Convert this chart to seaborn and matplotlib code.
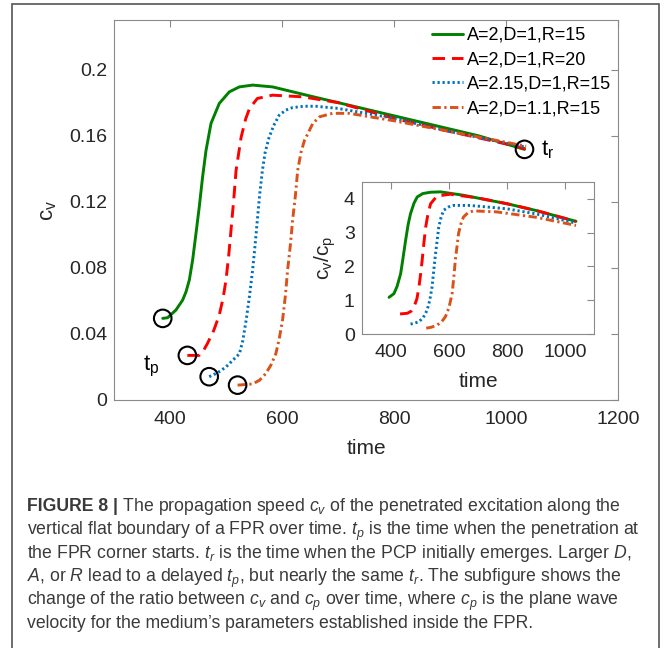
import numpy as np
import pandas as pd
import matplotlib
matplotlib.use("Agg")
import matplotlib.pyplot as plt
import seaborn as sns
from matplotlib.patches import Rectangle

# ---------------- data ----------------
labels = ["A=2,D=1,R=15", "A=2,D=1,R=20", "A=2.15,D=1,R=15", "A=2,D=1.1,R=15"]
colors = ["#008000", "#FF0000", "#0072BD", "#D95319"]

# main panel: c_v over time
green_t = [387, 395.7, 410.7, 422.6, 428.6, 434.5, 440.4, 446.4, 452.3, 458.2, 464.3, 473.2, 488, 505.9,
           523.8, 547.5, 583.2, 650, 750, 850, 950, 1033]
green_cv = [0.0494, 0.0498, 0.0545, 0.0605, 0.0655, 0.0726, 0.0847, 0.1008, 0.117, 0.135, 0.151, 0.1674,
            0.1795, 0.1865, 0.1895, 0.1906, 0.1895, 0.184, 0.176, 0.168, 0.160, 0.1517]
red_t = [431, 452, 460, 467, 478, 488, 495, 500, 505, 509, 514, 518, 527, 535, 542, 556, 583, 637, 700,
         800, 900, 1000, 1035]
red_cv = [0.027, 0.027, 0.030, 0.0343, 0.042, 0.0514, 0.062, 0.0726, 0.088, 0.103, 0.122, 0.139, 0.159,
          0.170, 0.1765, 0.1825, 0.1845, 0.1835, 0.180, 0.1705, 0.1625, 0.155, 0.152]
blue_t = [470, 485, 500, 512, 524, 530, 536, 542, 547.5, 552, 556, 560, 565, 570, 577, 585, 595, 607, 619,
          640, 660, 700, 800, 900, 1000, 1036]
blue_cv = [0.0141, 0.0165, 0.020, 0.024, 0.028, 0.036, 0.0484, 0.063, 0.0786, 0.094, 0.109, 0.124, 0.139,
           0.150, 0.159, 0.166, 0.1724, 0.1755, 0.177, 0.1778, 0.1778, 0.1765, 0.1705, 0.1625, 0.1555, 0.153]
orange_t = [520.7, 547.5, 560, 571, 580, 589, 595, 601, 606, 610, 615, 619, 624, 628, 634, 640, 655, 667,
            690, 720, 800, 900, 1000, 1036]
orange_cv = [0.009, 0.0097, 0.012, 0.016, 0.021, 0.028, 0.037, 0.0484, 0.063, 0.0786, 0.094, 0.109, 0.124,
             0.139, 0.150, 0.157, 0.1674, 0.1714, 0.1735, 0.1735, 0.169, 0.1625, 0.156, 0.1536]

# inset: c_v / c_p over time
green_ti = [394, 411, 422, 434, 443, 451, 460, 468, 480, 491, 510, 537, 571, 650, 800, 900, 1037]
green_ratio = [1.09, 1.2, 1.42, 1.79, 2.3, 2.77, 3.25, 3.56, 3.87, 4.05, 4.15, 4.19, 4.2, 4.1, 3.85, 3.65, 3.33]
red_ti = [432, 457, 470, 480, 490, 497, 503, 508, 514, 520, 528, 537, 559, 605, 700, 800, 900, 1037]
red_ratio = [0.6, 0.62, 0.68, 0.81, 1.05, 1.4, 1.8, 2.19, 2.7, 3.16, 3.55, 3.85, 4.08, 4.13, 4.02, 3.85,
             3.65, 3.33]
blue_ti = [468, 482, 497, 512, 525, 534, 542, 548, 554, 560, 565, 573, 582, 600, 616, 673, 800, 900, 1037]
blue_ratio = [0.30, 0.33, 0.37, 0.5, 0.71, 1.0, 1.4, 1.9, 2.38, 2.8, 3.16, 3.45, 3.66, 3.76, 3.8, 3.8,
              3.7, 3.55, 3.28]
orange_ti = [522, 540, 559, 575, 588, 600, 611, 617, 622, 628, 633, 641, 650, 665, 684, 764, 900, 1037]
orange_ratio = [0.18, 0.21, 0.27, 0.37, 0.52, 0.78, 1.2, 1.7, 2.19, 2.6, 2.97, 3.25, 3.46, 3.58, 3.64,
                3.61, 3.45, 3.21]

main_series = [(green_t, green_cv), (red_t, red_cv), (blue_t, blue_cv), (orange_t, orange_cv)]
inset_series = [(green_ti, green_ratio), (red_ti, red_ratio), (blue_ti, blue_ratio), (orange_ti, orange_ratio)]

main_xticks = [400, 600, 800, 1000, 1200]
main_yticks = [0, 0.04, 0.08, 0.12, 0.16, 0.2]
main_yticklabels = ["0", "0.04", "0.08", "0.12", "0.16", "0.2"]
inset_xticks = [400, 600, 800, 1000]
inset_yticks = [0, 1, 2, 3, 4]

caption_bold = "FIGURE 8 |"
caption_lines = [
    " The propagation speed $c_v$ of the penetrated excitation along the",
    "vertical flat boundary of a FPR over time. $t_p$ is the time when the penetration at",
    "the FPR corner starts. $t_r$ is the time when the PCP initially emerges. Larger $D$,",
    "$A$, or $R$ lead to a delayed $t_p$, but nearly the same $t_r$. The subfigure shows the",
    "change of the ratio between $c_v$ and $c_p$ over time, where $c_p$ is the plane wave",
    "velocity for the medium\u2019s parameters established inside the FPR.",
]

# ---------------- style ----------------
sns.set_style("white")
plt.rcParams["font.family"] = ["Liberation Sans", "DejaVu Sans"]
plt.rcParams["mathtext.fontset"] = "custom"
plt.rcParams["mathtext.rm"] = "Liberation Sans"
plt.rcParams["mathtext.it"] = "Liberation Sans:italic"
plt.rcParams["mathtext.bf"] = "Liberation Sans:bold"
plt.rcParams["lines.scale_dashes"] = False

line_styles = ["-", (0, (9, 5)), (0, (1.6, 2.0)), (0, (6, 2.5, 1.6, 2.5))]
spine_col = "#8a8a8a"
text_col = "#262626"

W, H = 667, 648
fig = plt.figure(figsize=(W / 100, H / 100), dpi=100)


def fx(px):
    return px / W


def fy(py):
    return 1 - py / H


def style_axes(ax, pad_x, pad_y):
    for sp in ax.spines.values():
        sp.set_color(spine_col)
        sp.set_linewidth(0.8)
        sp.set_visible(True)
    ax.tick_params(axis="both", which="both", direction="in", top=True, right=True,
                   length=5, width=0.8, color=spine_col, labelcolor=text_col, labelsize=14)
    ax.tick_params(axis="x", pad=pad_x)
    ax.tick_params(axis="y", pad=pad_y)
    ax.set_facecolor("white")


# ---------------- main axes ----------------
ax = fig.add_axes([fx(114), fy(400), fx(618) - fx(114), fy(20) - fy(400)])
for (t, v), lab, c, ls in zip(main_series, labels, colors, line_styles):
    df = pd.DataFrame({"time": t, "cv": v})
    sns.lineplot(data=df, x="time", y="cv", ax=ax, color=c, lw=2.1, sort=False,
                 estimator=None, label=lab)
    ax.lines[-1].set_linestyle(ls)

start_x = [s[0][0] for s in main_series] + [green_t[-1]]
start_y = [s[1][0] for s in main_series] + [green_cv[-1]]
sns.scatterplot(x=start_x, y=start_y, ax=ax, s=160, marker="o", facecolors="none",
                edgecolor="black", linewidth=1.5, zorder=5, legend=False)

ax.set_xlim(300, 1200)
ax.set_ylim(0, 0.23)
ax.set_xticks(main_xticks)
ax.set_yticks(main_yticks)
ax.set_yticklabels(main_yticklabels)
style_axes(ax, pad_x=8, pad_y=5)
ax.set_xlabel("time", fontsize=15, color=text_col)
ax.set_ylabel(r"$\mathregular{c_v}$", fontsize=16, color=text_col)
ax.xaxis.set_label_coords(0.5, -0.103)
ax.yaxis.set_label_coords(-0.11, 0.5)

ax.text(367, 0.0205, r"$\mathregular{t_p}$", fontsize=16, color="black", ha="center", va="center")
ax.text(1074, 0.1515, r"$\mathregular{t_r}$", fontsize=16, color="black", ha="center", va="center")

leg = ax.legend(loc="upper left", bbox_to_anchor=(fx(432), fy(27)), bbox_transform=fig.transFigure,
                frameon=False, fontsize=13, handlelength=1.7, handletextpad=0.25,
                labelspacing=0.41, borderpad=0, borderaxespad=0)
for t in leg.get_texts():
    t.set_color("black")

# ---------------- inset axes ----------------
axi = fig.add_axes([fx(361.7), fy(334.3), fx(594.3) - fx(361.7), fy(181.7) - fy(334.3)])
for (t, v), c, ls in zip(inset_series, colors, line_styles):
    df = pd.DataFrame({"time": t, "ratio": v})
    sns.lineplot(data=df, x="time", y="ratio", ax=axi, color=c, lw=2.1, sort=False,
                 estimator=None, legend=False)
    axi.lines[-1].set_linestyle(ls)
axi.set_xlim(300, 1100)
axi.set_ylim(0, 4.5)
axi.set_xticks(inset_xticks)
axi.set_yticks(inset_yticks)
style_axes(axi, pad_x=7, pad_y=5)
axi.set_xlabel("time", fontsize=15, color=text_col)
axi.set_ylabel(r"$\mathregular{c_v/c_p}$", fontsize=15, color=text_col)
axi.xaxis.set_label_coords(0.5, -0.25)
axi.yaxis.set_label_coords(-0.1, 0.5)

# ---------------- outer frame and caption ----------------
fig.patches.append(Rectangle((fx(12), -0.02), fx(659) - fx(12), fy(4) + 0.02, transform=fig.transFigure,
                             fill=False, edgecolor="#555555", linewidth=1.2))

cap_col = "#3a3a3a"
cap_fs = 12.7
baselines = [511, 535, 558, 582, 605, 628]
renderer = fig.canvas.get_renderer()
tb = fig.text(fx(27), fy(baselines[0]), caption_bold, fontsize=cap_fs, fontweight="bold",
              color=cap_col, va="baseline", ha="left")
bb = tb.get_window_extent(renderer=renderer)
fig.text(bb.x1 / fig.dpi / fig.get_figwidth(), fy(baselines[0]), caption_lines[0], fontsize=cap_fs,
         color=cap_col, va="baseline", ha="left")
for line, b in zip(caption_lines[1:], baselines[1:]):
    fig.text(fx(27), fy(b), line, fontsize=cap_fs, color=cap_col, va="baseline", ha="left")

fig.savefig("out.png", dpi=100, facecolor="white")
